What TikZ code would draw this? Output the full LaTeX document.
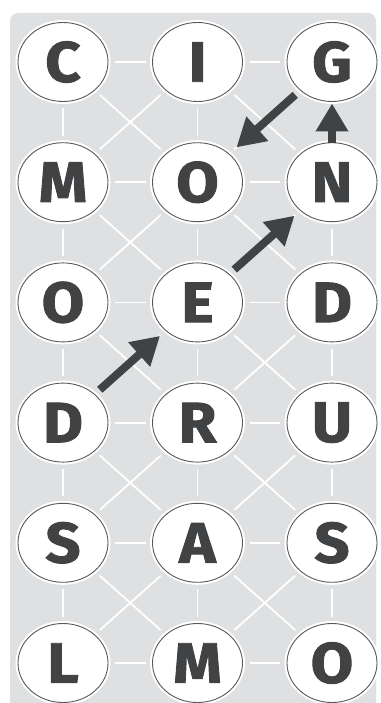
\documentclass[tikz,border=0pt]{standalone}
\usepackage{fontspec}
\setmainfont{Fira Sans}[BoldFeatures={FakeBold=1.6,FakeStretch=1.08}]
\usepackage{tikz}
\usetikzlibrary{arrows.meta,shapes.geometric,backgrounds}
\definecolor{panelgray}{HTML}{DFE0E2}
\definecolor{inkgray}{HTML}{414244}
\definecolor{rimgray}{HTML}{58595B}
\tikzset{
  letterbox/.style={
    ellipse, draw=rimgray, fill=white, line width=0.9pt,
    preaction={draw=white, line width=5pt},
    minimum width=90pt, minimum height=79pt,
    inner sep=0pt, outer sep=0pt, text=inkgray,
    font=\fontsize{57}{57}\selectfont\bfseries
  },
  gridline/.style={draw=white, line width=1.8pt, shorten <=7pt, shorten >=7pt},
  movearrow/.style={
    -{Triangle[width=31pt,length=28pt]}, line width=8pt, color=inkgray,
    shorten <=7pt, shorten >=8pt
  },
}
\begin{document}
\begin{tikzpicture}[x=1pt, y=-1pt]
  \useasboundingbox (0,0) rectangle (380,703);
  % letter grid
  \foreach \ch [count=\i from 0] in {C,I,G,M,O,N,O,E,D,D,R,U,S,A,S,L,M,O} {
    \pgfmathtruncatemacro\r{div(\i,3)}
    \pgfmathtruncatemacro\c{mod(\i,3)}
    \node[letterbox] (n\r\c) at ({63+134.5*\c}, {62+120.2*\r}) {\ch};
  }
  \begin{scope}[on background layer]
    \begin{scope}
      \clip (0,0) rectangle (380,703);
      \fill[panelgray, rounded corners=8pt] (10,13) rectangle (376,720);
    \end{scope}
    % horizontal and vertical links
    \foreach \r in {0,...,5} {
      \draw[gridline] (n\r0) -- (n\r1);
      \draw[gridline] (n\r1) -- (n\r2);
    }
    \foreach \r [evaluate=\r as \s using int(\r+1)] in {0,...,4} {
      \foreach \c in {0,1,2} { \draw[gridline] (n\r\c) -- (n\s\c); }
      \foreach \c [evaluate=\c as \d using int(\c+1)] in {0,1} {
        \draw[gridline] (n\r\c) -- (n\s\d);
        \draw[gridline] (n\r\d) -- (n\s\c);
      }
    }
  \end{scope}
  % word path
  \draw[movearrow] (n30) -- (n21);
  \draw[movearrow] (n21) -- (n12);
  \draw[movearrow, shorten <=0pt, shorten >=2pt] (n12) -- (n02);
  \draw[movearrow, shorten >=10pt] (n02) -- (n11);
\end{tikzpicture}
\end{document}
